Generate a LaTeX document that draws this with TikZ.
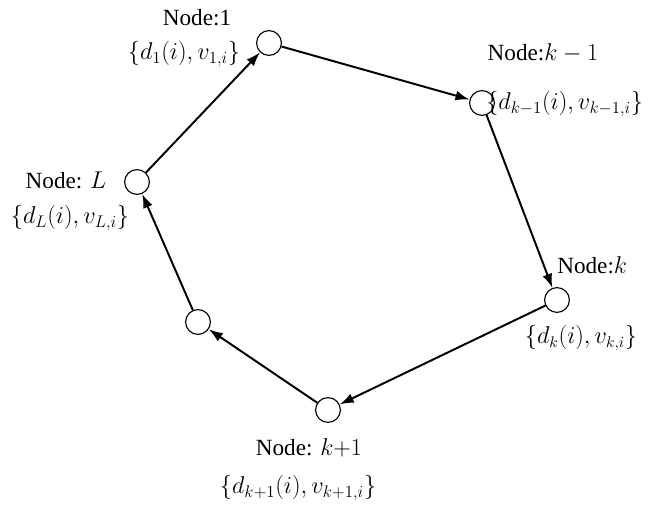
\documentclass[tikz,border=0pt]{standalone}
\usepackage{fontspec}
\setmainfont{Liberation Serif}
\usepackage{tikz}
\usetikzlibrary{arrows.meta, positioning}
\newcommand{\nodemath}[1]{{\fontsize{19}{21}\selectfont$#1$}}

\begin{document}
\begin{tikzpicture}[
  nd/.style={circle, draw=black, fill=white, line width=0.8pt,
    minimum size=0.62cm, inner sep=0pt},
  lbl/.style={font=\fontsize{16.5}{19}\selectfont, inner sep=0pt},
  set/.style={font=\fontsize{18}{21}\selectfont, inner sep=0pt},
  arr/.style={-{Latex[length=10pt, width=7pt]}, black, line width=1.4pt}
]
\useasboundingbox (0,0) rectangle (16.55,-12.65);

% ring of nodes
\node[nd] (n1)  at (6.725,-1.075) {};
\node[nd] (nk1) at (12.05,-2.575) {};
\node[nd] (nk)  at (13.925,-7.5)  {};
\node[nd] (nk2) at (8.2,-10.25)   {};
\node[nd] (nx)  at (4.95,-8.05)   {};
\node[nd] (nL)  at (3.425,-4.55)  {};

% labels
\node[lbl] (lab1)  at (4.925,-0.45)  {Node:1};
\node[set] (set1)  at (4.6,-1.35)    {$\{d_1(i), v_{1,i}\}$};
\node[lbl] (labk1) at (13.575,-1.325) {Node:\nodemath{k-1}};
\node[set, anchor=west] (setk1) at (12.15,-2.6) {$\{d_{k-1}(i), v_{k-1,i}\}$};
\node[lbl, anchor=west] (labk) at (13.925,-6.625) {Node:\nodemath{k}};
\node[set, font=\fontsize{16}{19}\selectfont] (setk) at (14.525,-8.45) {$\{d_k(i), v_{k,i}\}$};
\node[lbl] (labk2) at (7.725,-11.2)  {Node: \nodemath{k{+}1}};
\node[set] (setk2) at (7.45,-12.2)   {$\{d_{k+1}(i), v_{k+1,i}\}$};
\node[lbl] (labL)  at (1.65,-4.5)    {Node: \nodemath{L}};
\node[set] (setL)  at (1.75,-5.45)   {$\{d_L(i), v_{L,i}\}$};

% connectors
\draw[arr] (nL) -- (n1);
\draw[arr] (n1) -- (nk1);
\draw[arr] (nk1) -- (nk);
\draw[arr] (nk) -- (nk2);
\draw[arr] (nk2) -- (nx);
\draw[arr] (nx) -- (nL);
\end{tikzpicture}
\end{document}
